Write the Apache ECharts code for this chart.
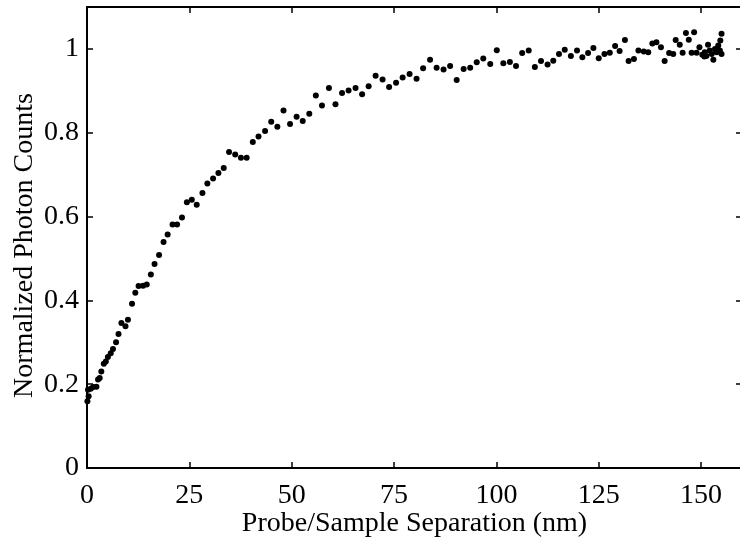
<!DOCTYPE html>
<html>
<head>
<meta charset="utf-8">
<script src="https://cdn.jsdelivr.net/npm/echarts@6/dist/echarts.min.js"></script>
<style>
html,body{margin:0;padding:0;background:#fff;}
#chart{width:740px;height:546px;}
</style>
</head>
<body>
<div id="chart"></div>
<script>
var separation = [0.1,0.4,0.25,0.9,1.5,2.3,2.7,3.1,3.5,4.1,4.6,5.1,5.8,6.35,7.1,7.7,8.4,9.4,10.0,11.0,11.8,12.6,13.7,14.6,15.6,
16.5,17.6,18.7,19.7,20.9,22.0,23.2,24.4,25.6,26.8,28.2,29.4,30.8,32.1,33.4,34.7,36.2,37.6,39.0,
40.5,41.9,43.5,45.0,46.5,48.0,49.6,51.2,52.7,54.3,55.9,57.4,59.1,60.7,62.3,63.9,65.6,67.2,68.8,70.5,72.2,73.8,75.5,
77.1,78.8,80.5,82.1,83.8,85.4,87.1,88.7,90.3,92.0,93.6,95.2,96.8,98.5,100.1,101.7,103.3,104.8,106.3,107.9,109.4,110.9,112.5,113.9,115.3,
116.7,118.2,119.7,121.0,122.4,123.7,125.0,126.4,127.7,129.0,130.1,131.4,132.3,133.6,134.7,136.0,137.1,138.1,139.1,140.2,141.1,142.2,143.2,143.8,144.8,145.5,146.3,147.0,147.7,148.3,148.9,149.6,150.3,150.9,151.7,152.1,152.6,153.0,153.4,153.8,154.2,154.6,154.7,155.0,155.0,151.3,150.8];
var counts = [0.159,0.171,0.187,0.189,0.193,0.194,0.211,0.215,0.230,0.249,0.254,0.265,0.274,0.284,0.300,0.320,0.346,0.338,0.354,0.392,0.418,0.434,0.435,0.438,0.462,
0.487,0.508,0.539,0.557,0.581,0.581,0.598,0.634,0.640,0.628,0.656,0.679,0.691,0.704,0.716,0.754,0.748,0.740,0.740,
0.778,0.791,0.804,0.826,0.814,0.853,0.821,0.838,0.828,0.845,0.889,0.865,0.907,0.868,0.895,0.901,0.907,0.892,0.911,0.936,0.927,0.909,0.919,
0.932,0.940,0.929,0.954,0.974,0.955,0.951,0.959,0.926,0.952,0.955,0.968,0.977,0.964,0.997,0.966,0.969,0.959,0.990,0.996,0.957,0.971,0.963,0.972,0.988,
0.998,0.983,0.996,0.980,0.990,1.002,0.978,0.988,0.991,1.007,0.995,1.021,0.971,0.976,0.996,0.994,0.992,1.013,1.016,1.004,0.971,0.990,0.988,1.021,1.010,0.991,1.038,1.022,0.991,1.040,0.991,1.004,0.986,0.992,1.010,0.996,0.988,0.974,1.000,0.992,1.008,0.996,1.020,1.036,0.988,0.983,0.982];
var xTicks = [0,25,50,75,100,125,150];
var yTicks = [0,0.2,0.4,0.6,0.8,1];

var pts = separation.map(function(x,i){return [x,counts[i]];});
var FONT = 'Liberation Serif';
var lineStyle = {color:'#000', width:2};
var tickStyle = {color:'#000', width:1.5};

var chart = echarts.init(document.getElementById('chart'), null, {renderer:'canvas'});
chart.setOption({
  animation:false,
  backgroundColor:'#fff',
  grid:{left:87, top:7, right:-2, bottom:78, containLabel:false, outerBoundsMode:'none'},
  xAxis:[{
    type:'value', min:0, max:160, interval:25,
    name:'Probe/Sample Separation (nm)', nameLocation:'middle', nameGap:42, nameMoveOverlap:false,
    nameTextStyle:{fontFamily:FONT, fontSize:28, color:'#000'},
    axisLine:{show:true, onZero:false, lineStyle:lineStyle},
    axisTick:{show:true, inside:true, length:6, lineStyle:tickStyle},
    axisLabel:{fontFamily:FONT, fontSize:28, color:'#000', margin:14, showMaxLabel:false,
      formatter:function(v){return xTicks.indexOf(v)>=0 ? String(v) : '';}},
    splitLine:{show:false}
  },{
    type:'value', position:'top', min:0, max:160, interval:25,
    axisLine:{show:true, onZero:false, lineStyle:lineStyle},
    axisTick:{show:true, inside:true, length:6, lineStyle:tickStyle},
    axisLabel:{show:false}, splitLine:{show:false}
  }],
  yAxis:[{
    type:'value', min:0, max:1.1, interval:0.2,
    name:'Normalized Photon Counts', nameLocation:'middle', nameGap:48, nameMoveOverlap:false,
    nameTextStyle:{fontFamily:FONT, fontSize:28, color:'#000', padding:[0,16,0,0]},
    axisLine:{show:true, onZero:false, lineStyle:lineStyle},
    axisTick:{show:true, inside:true, length:6, lineStyle:tickStyle},
    axisLabel:{fontFamily:FONT, fontSize:28, color:'#000', margin:8, showMaxLabel:false,
      formatter:function(v){var r=Math.round(v*10)/10; return yTicks.indexOf(r)>=0 && Math.abs(v-r)<1e-6 ? String(r) : '';}},
    splitLine:{show:false}
  },{
    type:'value', position:'right', min:0, max:1.1, interval:0.2,
    axisLine:{show:true, onZero:false, lineStyle:lineStyle},
    axisTick:{show:true, inside:true, length:6, lineStyle:tickStyle},
    axisLabel:{show:false}, splitLine:{show:false}
  }],
  series:[{
    type:'scatter', data:pts, symbol:'circle', symbolSize:6,
    itemStyle:{color:'#000', opacity:1}, xAxisIndex:0, yAxisIndex:0
  }]
});
</script>
</body>
</html>
